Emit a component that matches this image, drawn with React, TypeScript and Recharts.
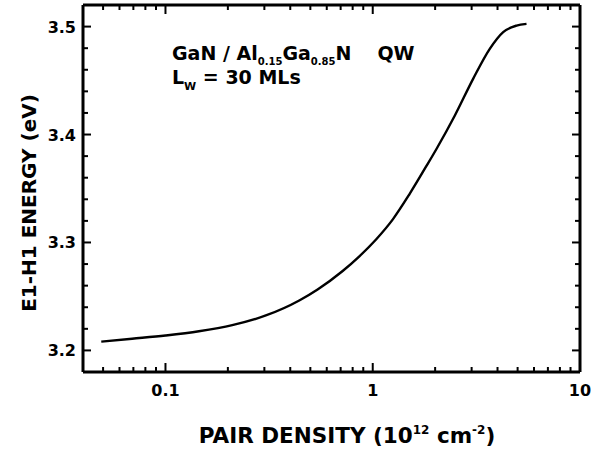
import React from 'react';
import { LineChart, Line, XAxis, YAxis } from 'recharts';

// E1-H1 transition energy vs. pair density
const density = [0.049, 0.069, 0.1, 0.145, 0.21, 0.305, 0.442, 0.542, 0.716, 0.862, 1.04, 1.25, 1.5, 1.81, 2.03, 2.49, 3.05, 3.67, 4.26, 4.94, 5.52];
const energy = [3.2081, 3.2108, 3.2138, 3.2177, 3.2234, 3.2324, 3.2463, 3.2565, 3.2736, 3.2872, 3.303, 3.3214, 3.3444, 3.3704, 3.3866, 3.4176, 3.4516, 3.4794, 3.4949, 3.5009, 3.5025];

const xMajor = [0.1, 1, 10];
const xMinor = [0.05, 0.06, 0.07, 0.08, 0.09, 0.2, 0.3, 0.4, 0.5, 0.6, 0.7, 0.8, 0.9, 2, 3, 4, 5, 6, 7, 8, 9];
const yMajor = [3.2, 3.3, 3.4, 3.5];
const yMinor = [3.22, 3.24, 3.26, 3.28, 3.32, 3.34, 3.36, 3.38, 3.42, 3.44, 3.46, 3.48];

const rows = density.map((n, i) => ({ n, e: energy[i] }));

const FONT = '"DejaVu Sans", sans-serif';
const INK = '#000';
const AXIS = { stroke: INK, strokeWidth: 3 };

const textStyle = { fontFamily: FONT, fontWeight: 'bold' as const, fill: INK };

function BottomTick({ x, y, payload }: any) {
  const major = xMajor.includes(payload.value);
  return (
    <g>
      <line x1={x} y1={y} x2={x} y2={y - (major ? 9 : 5)} stroke={INK} strokeWidth={2} />
      {major && (
        <text x={x} y={y + 24} textAnchor="middle" fontSize={16} {...textStyle}>
          {payload.value}
        </text>
      )}
    </g>
  );
}

function TopTick({ x, y, payload }: any) {
  const major = xMajor.includes(payload.value);
  return <line x1={x} y1={y} x2={x} y2={y + (major ? 9 : 5)} stroke={INK} strokeWidth={2} />;
}

function LeftTick({ x, y, payload }: any) {
  const major = yMajor.includes(payload.value);
  return (
    <g>
      <line x1={x} y1={y} x2={x + (major ? 8 : 5)} y2={y} stroke={INK} strokeWidth={2} />
      {major && (
        <text x={x - 7} y={y + 6} textAnchor="end" fontSize={16} {...textStyle}>
          {payload.value.toFixed(1)}
        </text>
      )}
    </g>
  );
}

function RightTick({ x, y, payload }: any) {
  const major = yMajor.includes(payload.value);
  return <line x1={x} y1={y} x2={x - (major ? 8 : 5)} y2={y} stroke={INK} strokeWidth={2} />;
}

export default function App() {
  const xTicks = [...xMinor, ...xMajor].sort((a, b) => a - b);
  const yTicks = [...yMinor, ...yMajor].sort((a, b) => a - b);
  return (
    <div style={{ position: 'absolute', left: 0, top: 0, width: 609, height: 451, background: '#fff' }}>
      <LineChart width={609} height={451} data={rows} margin={{ top: 4, right: 28, left: 0, bottom: 0 }}>
        <XAxis
          xAxisId="b"
          dataKey="n"
          type="number"
          scale="log"
          domain={[0.04, 10]}
          allowDataOverflow
          ticks={xTicks}
          interval={0}
          height={79}
          tickSize={0}
          tickMargin={0}
          tickLine={false}
          axisLine={AXIS}
          tick={<BottomTick />}
        />
        <XAxis
          xAxisId="t"
          orientation="top"
          dataKey="n"
          type="number"
          scale="log"
          domain={[0.04, 10]}
          allowDataOverflow
          ticks={xTicks}
          interval={0}
          height={1}
          tickSize={0}
          tickMargin={0}
          tickLine={false}
          axisLine={AXIS}
          tick={<TopTick />}
        />
        <YAxis
          yAxisId="l"
          dataKey="e"
          type="number"
          domain={[3.18, 3.52]}
          allowDataOverflow
          ticks={yTicks}
          interval={0}
          width={83}
          tickSize={0}
          tickMargin={0}
          tickLine={false}
          axisLine={AXIS}
          tick={<LeftTick />}
        />
        <YAxis
          yAxisId="r"
          orientation="right"
          dataKey="e"
          type="number"
          domain={[3.18, 3.52]}
          allowDataOverflow
          ticks={yTicks}
          interval={0}
          width={1}
          tickSize={0}
          tickMargin={0}
          tickLine={false}
          axisLine={AXIS}
          tick={<RightTick />}
        />
        <Line
          xAxisId="b"
          yAxisId="l"
          dataKey="e"
          type="monotone"
          stroke={INK}
          strokeWidth={2.4}
          dot={false}
          isAnimationActive={false}
        />
      </LineChart>
      <svg width={609} height={451} style={{ position: 'absolute', left: 0, top: 0, pointerEvents: 'none' }}>
        <text x={172} y={60} fontSize={19} {...textStyle}>
          GaN / Al
          <tspan fontSize={10} dy={5}>0.15</tspan>
          <tspan dy={-5}>Ga</tspan>
          <tspan fontSize={10} dy={5}>0.85</tspan>
          <tspan dy={-5}>N</tspan>
          <tspan dx={26}>QW</tspan>
        </text>
        <text x={172} y={84} fontSize={19} {...textStyle}>
          L
          <tspan fontSize={11} dy={6}>W</tspan>
          <tspan dy={-6}> = 30 MLs</tspan>
        </text>
        <text x={347} y={443} textAnchor="middle" fontSize={21.5} {...textStyle}>
          PAIR DENSITY (10
          <tspan fontSize={12} dy={-9}>12</tspan>
          <tspan dy={9}> cm</tspan>
          <tspan fontSize={12} dy={-9}>-2</tspan>
          <tspan dy={9}>)</tspan>
        </text>
        <text x={36} y={203} textAnchor="middle" fontSize={20} transform="rotate(-90 36 203)" {...textStyle}>
          E1-H1 ENERGY (eV)
        </text>
      </svg>
    </div>
  );
}
